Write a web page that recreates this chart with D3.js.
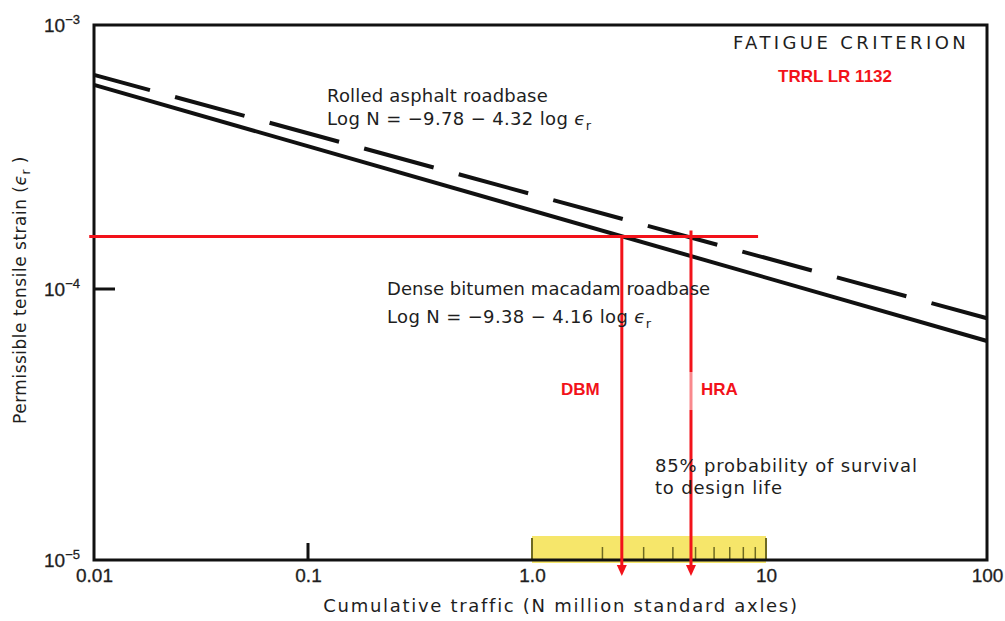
<!DOCTYPE html>
<html>
<head>
<meta charset="utf-8">
<script src="https://cdn.jsdelivr.net/npm/d3@7"></script>
<style>
    body { margin: 0; background: #fff; }
    text { font-family: "DejaVu Sans", sans-serif; }
    text.arial, .tick text { font-family: "Liberation Sans", Arial, sans-serif; }
</style>
</head>
<body>
<div id="draw"></div>
<script>
//data
var xTicks = [0.01, 0.1, 1, 10, 100];
var xTickLabels = ["0.01", "0.1", "1.0", "10", "100"];
var yTicks = [1e-3, 1e-4, 1e-5];
var yTickPowers = ["−3", "−4", "−5"];

//fatigue lines: [N million axles, strain]
var hraLine = [[0.01, 6.47e-4], [100, 7.8e-5]];     //rolled asphalt (dashed)
var dbmLine = [[0.01, 5.93e-4], [100, 6.43e-5]];    //dense bitumen macadam (solid)

var designStrain = 1.58e-4;
var designRange = [0.0095, 9.25];
var lives = [["DBM", 2.42], ["HRA", 4.78]];

//yellow band 1 - 10 msa with its minor ticks
var bandRange = [1, 10];
var bandTicks = [2, 3, 4, 5, 6, 7, 8, 9];
var bandMajor = [1, 10];

var w = 1005, h = 621;
var red = "#f2121a";
var ink = "#1e1e1e";

var svg = d3.select("#draw")
    .append("svg")
    .attr("width", w)
    .attr("height", h);

//scanned axes are not quite even, so the decades are pinned one by one
var x = d3.scaleLog()
    .domain(xTicks)
    .range([94, 308, 532, 766, 987]);
var y = d3.scaleLog()
    .domain(yTicks)
    .range([25, 289, 560]);

//yellow band
svg.append("rect")
    .attr("x", x(bandRange[0]))
    .attr("y", 536)
    .attr("width", x(bandRange[1]) - x(bandRange[0]))
    .attr("height", 27)
    .attr("fill", "#f6e66a");
svg.selectAll(".bandtick")
    .data(bandTicks)
    .enter()
    .append("line")
    .attr("class", "bandtick")
    .attr("x1", function(d) { return x(d); })
    .attr("x2", function(d) { return x(d); })
    .attr("y1", 547)
    .attr("y2", 560)
    .attr("stroke", "#6e6a22")
    .attr("stroke-width", 1.5);
svg.selectAll(".bandmajor")
    .data(bandMajor)
    .enter()
    .append("line")
    .attr("class", "bandmajor")
    .attr("x1", function(d) { return x(d); })
    .attr("x2", function(d) { return x(d); })
    .attr("y1", 538)
    .attr("y2", 560)
    .attr("stroke", "#6e6a22")
    .attr("stroke-width", 2);

//frame
svg.append("rect")
    .attr("x", x(0.01))
    .attr("y", y(1e-3))
    .attr("width", x(100) - x(0.01))
    .attr("height", y(1e-5) - y(1e-3))
    .attr("fill", "none")
    .attr("stroke", "#111")
    .attr("stroke-width", 3);

//inner ticks at 0.1 and 1e-4
svg.append("line")
    .attr("x1", x(0.1)).attr("x2", x(0.1))
    .attr("y1", y(1e-5)).attr("y2", y(1e-5) - 17)
    .attr("stroke", "#111").attr("stroke-width", 3);
svg.append("line")
    .attr("x1", x(0.01)).attr("x2", x(0.01) + 21)
    .attr("y1", y(1e-4)).attr("y2", y(1e-4))
    .attr("stroke", "#111").attr("stroke-width", 3);

//x tick labels
var xAxis = d3.axisBottom(x)
    .tickValues(xTicks)
    .tickSize(0)
    .tickPadding(0)
    .tickFormat(function(d, i) { return xTickLabels[i]; });
var gx = svg.append("g")
    .attr("transform", "translate(0," + (y(1e-5) + 8) + ")")
    .call(xAxis);
gx.select(".domain").remove();
gx.selectAll("text")
    .attr("dy", "0.71em")
    .attr("font-size", "19px")
    .attr("stroke", ink)
    .attr("stroke-width", 0.3)
    .attr("fill", ink);

//y tick labels 10^-n
var ylab = svg.selectAll(".ylab")
    .data(yTicks)
    .enter()
    .append("text")
    .attr("class", "ylab arial")
    .attr("x", 44)
    .attr("y", function(d) { return y(d) + 7; })
    .attr("font-size", "19px")
    .attr("stroke", ink)
    .attr("stroke-width", 0.3)
    .attr("fill", ink);
ylab.append("tspan").text("10");
ylab.append("tspan")
    .attr("dy", -8)
    .attr("font-size", "13px")
    .text(function(d, i) { return yTickPowers[i]; });

//fatigue lines
var line = d3.line()
    .x(function(d) { return x(d[0]); })
    .y(function(d) { return y(d[1]); });
svg.append("path")
    .attr("d", line(dbmLine))
    .attr("fill", "none")
    .attr("stroke", "#111")
    .attr("stroke-width", 4);
svg.append("path")
    .attr("d", line(hraLine))
    .attr("fill", "none")
    .attr("stroke", "#111")
    .attr("stroke-width", 4)
    .attr("stroke-dasharray", "72,26")
    .attr("stroke-dashoffset", 14);

//red design strain line
svg.append("line")
    .attr("x1", x(designRange[0]))
    .attr("x2", x(designRange[1]))
    .attr("y1", y(designStrain))
    .attr("y2", y(designStrain))
    .attr("stroke", red)
    .attr("stroke-width", 3);

//red drop lines with arrow heads
svg.selectAll(".drop")
    .data(lives)
    .enter()
    .append("line")
    .attr("class", "drop")
    .attr("x1", function(d) { return x(d[1]); })
    .attr("x2", function(d) { return x(d[1]); })
    .attr("y1", function(d, i) { return y(designStrain) - (i === 1 ? 6 : 0); })
    .attr("y2", 566)
    .attr("stroke", red)
    .attr("stroke-width", 3);
svg.selectAll(".arrow")
    .data(lives)
    .enter()
    .append("path")
    .attr("class", "arrow")
    .attr("d", function(d) {
        var cx = x(d[1]);
        return "M" + (cx - 5) + ",565L" + (cx + 5) + ",565L" + cx + ",576Z";
    })
    .attr("fill", red);

//faded box behind HRA label
svg.append("rect")
    .attr("x", x(lives[1][1]) - 3)
    .attr("y", 372)
    .attr("width", 46)
    .attr("height", 38)
    .attr("fill", "#fff")
    .attr("opacity", 0.5);

//red labels
function redLabel(tx, ty, str){
    svg.append("text")
        .attr("class", "arial")
        .attr("x", tx).attr("y", ty)
        .attr("font-size", "17px").attr("font-weight", "bold")
        .attr("fill", red)
        .text(str);
}
redLabel(561, 395, lives[0][0]);
redLabel(701, 395, lives[1][0]);
redLabel(778, 82, "TRRL LR 1132");

//title
svg.append("text")
    .attr("x", 733).attr("y", 49)
    .attr("font-size", "18px")
    .attr("letter-spacing", "3.4px")
    .attr("fill", ink)
    .text("FATIGUE CRITERION");

//annotations
function label(tx, ty, str, spacing, eq){
    var t = svg.append("text")
        .attr("x", tx).attr("y", ty)
        .attr("font-size", "18px")
        .attr("letter-spacing", spacing + "px")
        .attr("fill", ink)
        .text(str);
    if(eq){
        t.append("tspan").attr("font-style", "italic").text(" ϵ");
        t.append("tspan").attr("dy", 5).attr("font-size", "13px").text("r");
    }
}
label(327, 102, "Rolled asphalt roadbase", 0.2);
label(327, 125, "Log N = −9.78 − 4.32 log", 0.35, true);
label(387, 295, "Dense bitumen macadam roadbase", 0.05);
label(387, 323, "Log N = −9.38 − 4.16 log", 0.35, true);
label(655, 472, "85% probability of survival", 0.8);
label(655, 494, "to design life", 0.8);

//axis titles
svg.append("text")
    .attr("x", 561).attr("y", 612)
    .attr("text-anchor", "middle")
    .attr("font-size", "18px")
    .attr("letter-spacing", "1.7px")
    .attr("fill", ink)
    .text("Cumulative traffic (N million standard axles)");

var yt = svg.append("text")
    .attr("transform", "translate(26,290) rotate(-90)")
    .attr("text-anchor", "middle")
    .attr("font-size", "17px")
    .attr("letter-spacing", "0.5px")
    .attr("fill", ink)
    .text("Permissible tensile strain  (");
yt.append("tspan").attr("font-style", "italic").text("ϵ");
yt.append("tspan").attr("dy", 4).attr("font-size", "12px").text("r");
yt.append("tspan").attr("dy", -4).text(" )");
</script>
</body>
</html>
